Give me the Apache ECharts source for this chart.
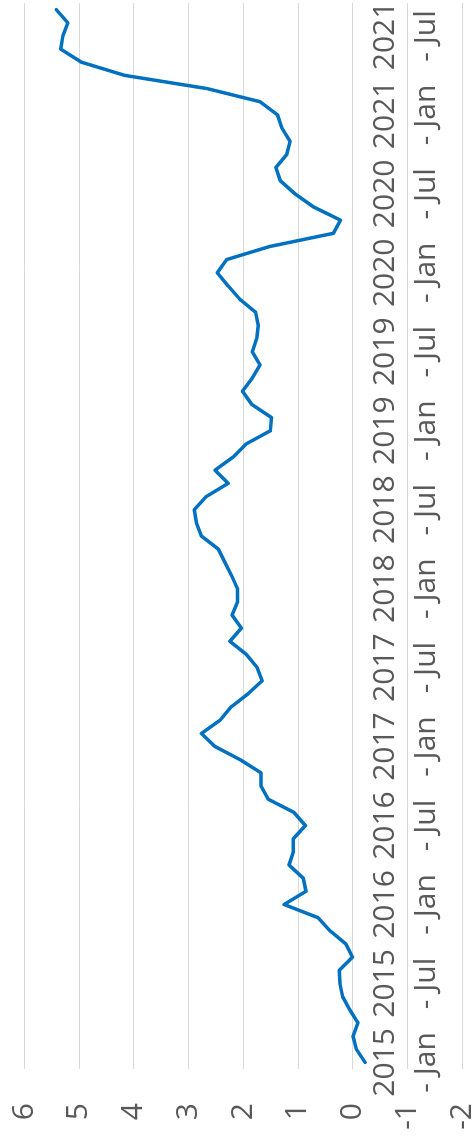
<!DOCTYPE html>
<html>
<head>
<meta charset="utf-8">
<script src="https://cdn.jsdelivr.net/npm/echarts@6/dist/echarts.min.js"></script>
<style>
    html, body { margin: 0; padding: 0; background: #fff; overflow: hidden; }
    /* chart is drawn landscape and turned a quarter to the left */
    #trendChart {
        position: absolute;
        left: 0;
        top: 1143px;
        width: 1143px;
        height: 473px;
        transform-origin: 0 0;
        transform: rotate(-90deg);
    }
</style>
</head>
<body>
<div id="trendChart"></div>
<script>
// category labels: monthly from 2015 - Jan to 2021 - Sep
const years = ['2015', '2016', '2017', '2018', '2019', '2020', '2021'];
const months = ['Jan', 'Feb', 'Mar', 'Apr', 'May', 'Jun', 'Jul', 'Aug', 'Sep', 'Oct', 'Nov', 'Dec'];
const lastMonthCount = 9; // 2021 stops at Sep

const values = [
    -0.23, -0.07, -0.01, -0.10, 0.05, 0.18, 0.23, 0.24, 0.00, 0.12, 0.41, 0.63,
    1.25, 0.85, 0.90, 1.16, 1.08, 1.08, 0.86, 1.07, 1.54, 1.67, 1.67, 2.05,
    2.51, 2.76, 2.42, 2.22, 1.91, 1.65, 1.74, 1.94, 2.24, 2.03, 2.20, 2.10,
    2.10, 2.21, 2.33, 2.45, 2.76, 2.85, 2.89, 2.67, 2.27, 2.51, 2.18, 1.94,
    1.50, 1.48, 1.84, 2.01, 1.83, 1.69, 1.83, 1.75, 1.72, 1.77, 2.06, 2.27,
    2.47, 2.30, 1.51, 0.35, 0.22, 0.71, 1.05, 1.32, 1.40, 1.20, 1.14, 1.29,
    1.37, 1.69, 2.66, 4.16, 4.95, 5.33, 5.29, 5.20, 5.41
];

const valueMin = -2;
const valueMax = 6;
const valueStep = 1;

let categories = [];
years.forEach((y, yi) => {
    let count = yi === years.length - 1 ? lastMonthCount : 12;
    for (let m = 0; m < count; m++) {
        categories.push(y + ' - ' + months[m]);
    }
});

const textColor = '#595959';
const gridColor = '#D9D9D9';
const fontName = 'Open Sans';

// plot box inside the (unrotated) chart
const gridTop = 24;
const gridBottom = 11;
const chartHeight = 473;
// the category axis sits on value 0, so pull it up from the grid bottom
const plotHeight = chartHeight - gridTop - gridBottom;
const zeroOffset = -plotHeight * (0 - valueMin) / (valueMax - valueMin);

let trendChart = echarts.init(document.getElementById('trendChart'));
let option = {
    animation: false,
    grid: {
        left: 74,
        right: 3,
        top: gridTop,
        bottom: gridBottom,
        containLabel: false,
        outerBoundsMode: 'none'
    },
    xAxis: {
        type: 'category',
        data: categories,
        boundaryGap: true,
        offset: zeroOffset,
        axisLine: {
            show: true,
            onZero: false,
            lineStyle: { color: gridColor, width: 1 }
        },
        axisTick: { show: false },
        axisLabel: {
            interval: 5,
            margin: 12,
            color: textColor,
            fontFamily: fontName,
            fontSize: 30,
            lineHeight: 41,
            formatter: v => v.replace(' ', '\n')
        }
    },
    yAxis: {
        type: 'value',
        min: valueMin,
        max: valueMax,
        interval: valueStep,
        axisLine: { show: false },
        axisTick: { show: false },
        axisLabel: {
            margin: 34,
            color: textColor,
            fontFamily: fontName,
            fontSize: 30
        },
        splitLine: {
            lineStyle: { color: gridColor, width: 1 }
        }
    },
    series: [
        {
            type: 'line',
            data: values,
            showSymbol: false,
            symbol: 'none',
            lineStyle: {
                color: '#0070C0',
                width: 3.5,
                join: 'round',
                cap: 'round'
            }
        }
    ]
};
trendChart.setOption(option);
</script>
</body>
</html>
